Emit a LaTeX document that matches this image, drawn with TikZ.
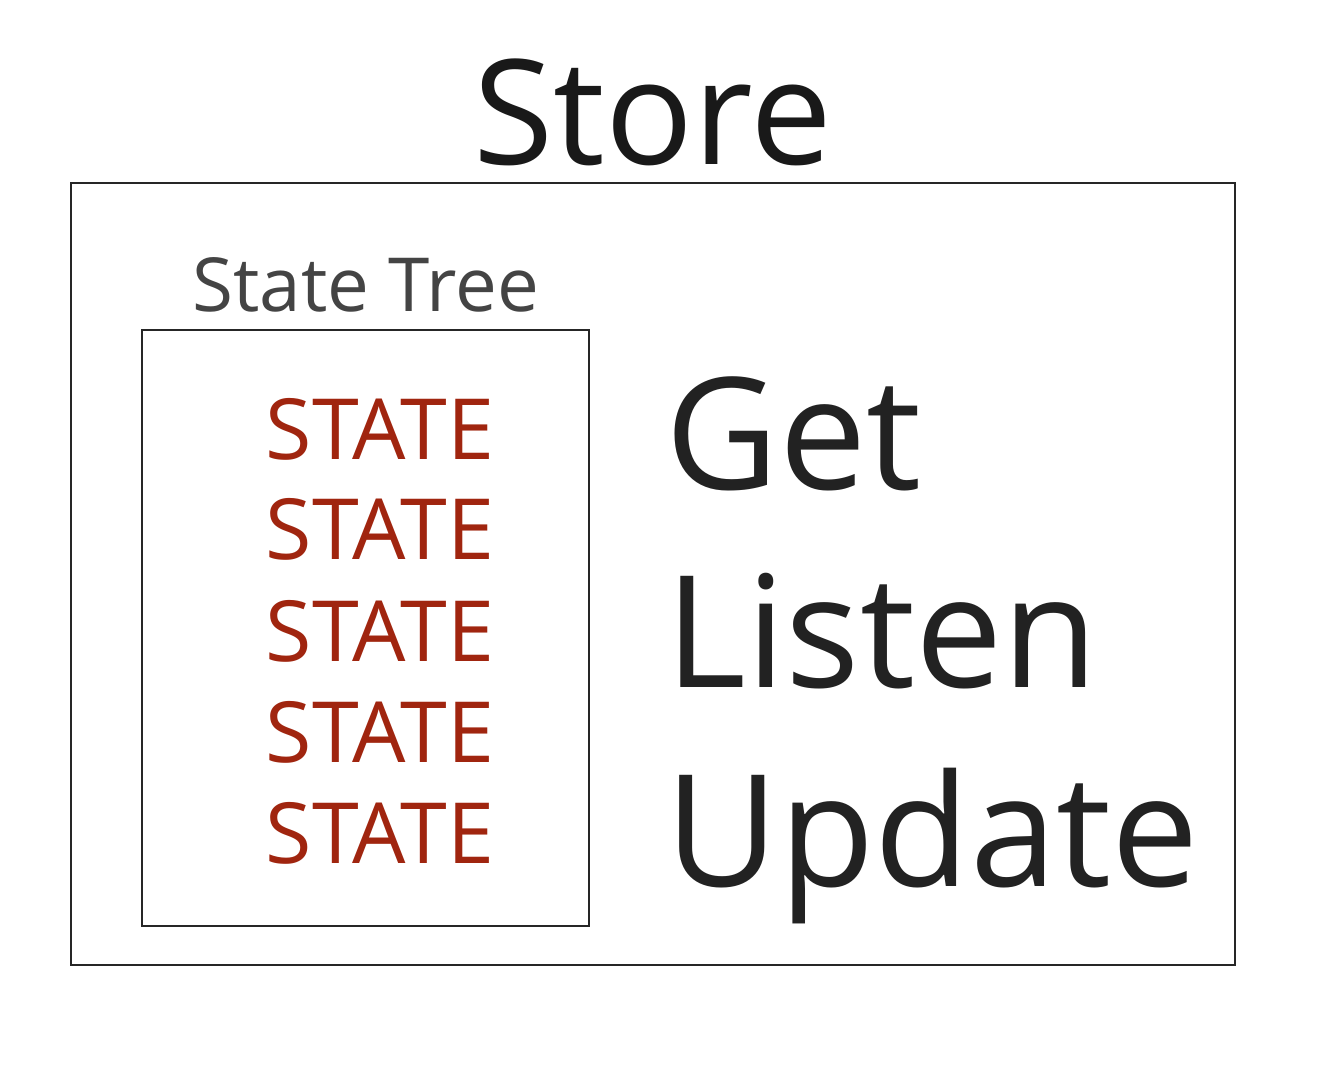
\documentclass[tikz,border=0pt]{standalone}
\usepackage{fontspec}
\setmainfont{Open Sans}
\usetikzlibrary{positioning}

\definecolor{statered}{HTML}{A0250F}
\definecolor{treegray}{HTML}{444444}
\definecolor{opblack}{HTML}{222222}

\tikzset{
  box/.style={draw=black!85, line width=0.8pt},
  statetext/.style={anchor=base west, inner sep=0pt, text=statered,
    font=\fontsize{24}{24}\selectfont},
  optext/.style={anchor=base west, inner sep=0pt, text=opblack,
    font=\fontsize{44.3}{44.3}\selectfont}
}

\begin{document}
\begin{tikzpicture}[x=0.01cm, y=-0.01cm]
  \useasboundingbox (0,0) rectangle (1325,1092);

  % store with its title
  \draw[box] (71,183) rectangle (1235,965);
  \node[anchor=base, inner sep=0pt, text=black!90, font=\fontsize{41.5}{41.5}\selectfont] (store) at (653,165) {Store};

  % state tree
  \draw[box] (142,330) rectangle (589,926);
  \node[anchor=base west, inner sep=0pt, text=treegray, font=\fontsize{21.2}{21.2}\selectfont] (tree) at (192,312) {State Tree};
  \foreach \y [count=\i] in {460,560,662,762,863}
    \node[statetext] (state\i) at (265,\y) {STATE};

  % what the store offers
  \node[optext] (get) at (665,490) {Get};
  \node[optext] (listen) at (665,688) {Listen};
  \node[optext] (update) at (665,886) {Update};
\end{tikzpicture}
\end{document}
